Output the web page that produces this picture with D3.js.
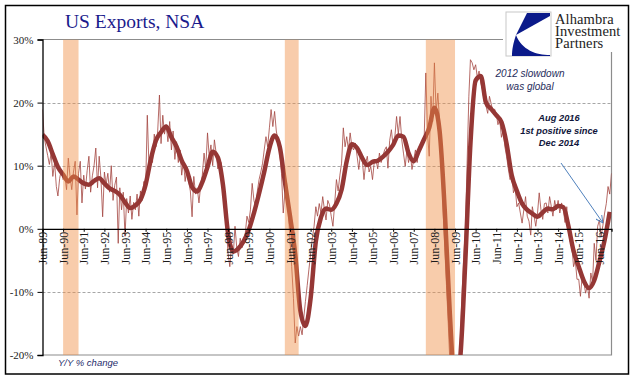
<!DOCTYPE html>
<html>
<head>
<meta charset="utf-8">
<script src="https://cdn.jsdelivr.net/npm/d3@7"></script>
<style>
  body { margin: 0; background: #fff; }
  svg { display: block; }
</style>
</head>
<body>
<div id="chart"></div>
<script>
// monthly Y/Y % change of US exports (NSA), first value = Jun 1989
var yoy = [
  18.9, 14.5, 13.0, 11.6, 10.2, 12.0, 8.3, 10.5, 6.7, 5.2, 8.0, 9.4,
  7.8, 8.5, 6.2, 11.2, 8.3, 6.2, 9.0, 10.7, 2.2, 8.8, 10.7, 4.1,
  8.5, 6.3, 9.2, 11.5, 5.8, 8.4, 10.0, 12.8, 6.5, 11.5, 8.0, 1.9,
  9.0, 7.0, 8.8, 5.8, 10.0, 4.5, 6.9, 8.2, -2.3, 6.5, 3.0, 5.8,
  -1.2, 4.8, 2.5, 5.2, 1.5, 4.2, 3.0, 5.5, 2.0, 6.0, 4.5, 7.5,
  6.5, 18.0, 9.5, 12.0, 10.5, 15.0, 13.0, 15.5, 21.2, 13.5, 18.0, 15.0,
  16.5, 13.8, 17.0, 12.5, 15.5, 11.0, 13.8, 10.5, 12.5, 8.5, 10.8, 7.5,
  9.8, 7.5, 6.0, 1.9, 8.3, 5.5, 6.5, 4.1, 7.0, 8.5, 12.0, 9.5,
  15.2, 11.5, 13.3, 10.0, 14.1, 12.0, 9.5, 11.0, 10.4, 7.0, 4.0, -0.2,
  -3.9, -6.0, -2.5, -4.0, 0.4, -3.0, -4.4, -1.5, -3.0, -2.0, -0.7, 2.0,
  1.0, 3.0, 7.2, 4.5, 3.5, 6.0, 7.8, 9.0, 10.4, 12.5, 14.6, 13.0,
  16.0, 18.9, 16.2, 18.6, 15.5, 14.0, 12.0, 8.8, 2.5, 5.5, 7.2, 3.0,
  -2.0, -6.0, -11.0, -18.1, -15.5, -17.0, -15.5, -16.8, -14.0, -11.5, -9.0, -6.5,
  -4.0, -1.5, 0.4, 3.5, 2.0, 4.0, 2.5, 5.1, 3.0, 1.4, 4.5, 3.8,
  2.0, 0.4, 4.0, 7.8, 6.0, 8.5, 10.4, 16.0, 13.0, 14.6, 12.5, 15.2,
  13.0, 12.5, 13.6, 11.5, 9.4, 12.0, 11.0, 7.8, 10.5, 11.5, 9.0, 9.9,
  7.8, 10.5, 11.0, 9.5, 12.0, 10.5, 11.5, 12.5, 13.0, 9.6, 14.0, 15.7,
  13.0, 14.5, 17.8, 15.0, 17.8, 14.1, 12.0, 9.9, 12.5, 10.5, 12.0, 9.4,
  11.0, 12.5, 10.5, 13.0, 12.5, 14.0, 13.6, 24.7, 15.0, 11.5, 21.0, 17.0,
  26.3, 18.5, 21.5, 17.0, 12.0, 3.0, -3.0, -9.0, -15.0, -21.0, -25.0, -27.0,
  -29.0, -28.0, -23.5, -18.0, -10.7, -4.5, -0.2, 10.4, 21.0, 26.8, 26.3, 25.2,
  26.0, 24.0, 25.0, 23.1, 22.0, 20.2, 19.5, 18.3, 21.0, 19.9, 18.7, 19.0,
  18.3, 16.5, 17.3, 14.5, 15.7, 13.0, 11.5, 9.5, 7.8, 9.0, 5.7, 6.5,
  3.5, 4.1, 2.5, 0.9, 3.0, 5.1, 2.0, 1.2, -1.0, 3.5, 2.0, 0.4,
  2.5, 5.7, 3.0, 1.5, 4.0, 4.1, 2.5, 5.1, 3.5, 2.0, 4.5, 3.0,
  4.5, 2.5, 4.1, 3.0, 1.0, 3.5, -0.2, -2.0, -2.8, -6.0, -5.0, -8.0,
  -8.0, -10.7, -7.5, -8.6, -10.2, -9.0, -11.0, -7.0, -8.5, -2.3, -5.0, 0.4,
  1.4, -1.2, 0.5, 2.5, 4.0, 6.7, 5.5, 8.8
];

// smoothed line, one value every 3 months from Jun 1989
var smooth = [
  14.9, 13.9, 11.8, 9.8, 8.6, 7.5, 8.3, 7.8, 7.2, 7.0,
  7.6, 8.0, 7.2, 6.4, 6.0, 5.4, 4.2, 3.3, 3.7, 4.6,
  7.0, 11.0, 14.0, 15.3, 16.2, 14.5, 13.0, 10.8, 9.2, 6.6,
  5.9, 7.4, 9.8, 12.2, 11.3, 7.0, -0.8, -3.6, -3.1, -2.0,
  -0.2, 2.5, 5.6, 9.0, 12.8, 14.8, 13.0, 7.5, 2.0, -4.0,
  -13.0, -15.4, -11.0, -2.0, 1.8, 3.2, 3.0, 4.0, 6.2, 10.7,
  13.4, 12.8, 11.2, 10.1, 10.6, 10.8, 11.4, 12.2, 13.3, 14.8,
  14.6, 12.0, 10.7, 12.4, 14.2, 16.0, 19.2, 15.5, 3.0, -13.4,
  -25.0, -20.5, -5.0, 13.5, 23.5, 24.2, 20.0, 19.0, 18.0, 16.9,
  13.5, 8.5, 6.0, 4.0, 3.0, 2.4, 1.9, 2.6, 3.2, 3.1,
  3.6, 3.4, 0.4, -3.5, -6.0, -8.3, -9.4, -8.2, -5.2, -1.8, 2.7
];

var recessions = [['1990-06', '1991-03'], ['2001-03', '2001-11'], ['2008-01', '2009-06']];
var yTicks = [30, 20, 10, 0, -10, -20];
var gridValues = [20, 10, -10];
var labelYears = d3.range(1989, 2017);

var w = 641, h = 381;
var pL = 42.5, pR = 611.5, pT = 39.5, pB = 355;

var monthDate = function(i) { return new Date(1989, 5 + i, 1); };
var parseMonth = d3.timeParse('%Y-%m');

var x = d3.scaleTime()
    .domain([new Date(1989, 5, 1), new Date(2017, 0, 1)])
    .range([pL, pR]);
var y = d3.scaleLinear()
    .domain([-20, 30])
    .range([pB, pT]);

var svg = d3.select('#chart').append('svg')
    .attr('width', w)
    .attr('height', h);

var defs = svg.append('defs');
defs.append('clipPath')
    .attr('id', 'plot')
  .append('rect')
    .attr('x', pL).attr('y', pT)
    .attr('width', pR - pL).attr('height', pB - pT);

// outer frame
svg.append('rect')
    .attr('x', 5.5).attr('y', 5.5)
    .attr('width', 623).attr('height', 368.5)
    .attr('fill', 'none')
    .attr('stroke', '#000')
    .attr('stroke-width', 1.5);

// gridlines
svg.selectAll('.grid')
    .data(gridValues)
    .enter()
    .append('line')
    .attr('x1', pL).attr('x2', pR)
    .attr('y1', function(d) { return Math.round(y(d)) + 0.5; })
    .attr('y2', function(d) { return Math.round(y(d)) + 0.5; })
    .attr('stroke', '#a6a6a6')
    .attr('stroke-dasharray', '3,2');

// plot area border
svg.append('path')
    .attr('d', 'M' + pL + ',' + pT + 'H' + pR + 'V' + pB + 'H' + pL)
    .attr('fill', 'none')
    .attr('stroke', '#8c8c8c')
    .attr('stroke-width', 1.2);

var lineThin = d3.line()
    .x(function(d, i) { return x(monthDate(i)); })
    .y(function(d) { return y(d); });

var lineThick = d3.line()
    .x(function(d, i) { return x(monthDate(i * 3)); })
    .y(function(d) { return y(d); })
    .curve(d3.curveMonotoneX);

var plot = svg.append('g').attr('clip-path', 'url(#plot)');

plot.append('path')
    .datum(yoy)
    .attr('d', lineThin)
    .attr('fill', 'none')
    .attr('stroke', '#a44641')
    .attr('stroke-opacity', 0.8)
    .attr('stroke-width', 1);

plot.append('path')
    .datum(smooth)
    .attr('d', lineThick)
    .attr('fill', 'none')
    .attr('stroke', '#953735')
    .attr('stroke-width', 4.5)
    .attr('stroke-linejoin', 'round');

// recession bands, drawn over the lines
plot.selectAll('.band')
    .data(recessions)
    .enter()
    .append('rect')
    .attr('x', function(d) { return x(parseMonth(d[0])); })
    .attr('width', function(d) { return x(parseMonth(d[1])) - x(parseMonth(d[0])); })
    .attr('y', pT)
    .attr('height', pB - pT)
    .attr('fill', '#ef8f45')
    .attr('fill-opacity', 0.45);

// zero line / x axis
var xAxis = svg.append('g')
    .attr('transform', 'translate(0,' + y(0) + ')')
    .call(d3.axisBottom(x)
      .tickValues(labelYears.map(function(yr) { return new Date(yr, 5, 1); }))
      .tickSize(3)
      .tickFormat(d3.timeFormat('%b-%y')));
xAxis.select('.domain').attr('stroke', '#000').attr('stroke-width', 1.3);
xAxis.selectAll('.tick line').attr('stroke', '#000');
xAxis.selectAll('.tick text')
    .attr('transform', 'rotate(-90)')
    .attr('text-anchor', 'end')
    .attr('x', -3)
    .attr('y', 0)
    .attr('dy', '0.35em')
    .style('font-family', '"Liberation Serif", serif')
    .style('font-size', '12px')
    .attr('fill', '#1a1a1a');

// y axis
var yAxis = svg.append('g')
    .attr('transform', 'translate(' + pL + ',0)')
    .call(d3.axisLeft(y)
      .tickValues(yTicks)
      .tickSize(5)
      .tickPadding(4)
      .tickFormat(function(d) { return d + '%'; }));
yAxis.select('.domain').attr('stroke', '#000').attr('stroke-width', 1.3);
yAxis.selectAll('.tick line').attr('stroke', '#000');
yAxis.selectAll('.tick text')
    .style('font-family', '"Liberation Serif", serif')
    .style('font-size', '11px')
    .attr('fill', '#1a1a1a');

// title
svg.append('text')
    .attr('x', 65).attr('y', 28)
    .style('font-family', '"Liberation Serif", serif')
    .style('font-size', '19.5px')
    .attr('fill', '#1a1a8c')
    .text('US Exports, NSA');

// logo
svg.append('rect')
    .attr('x', 503).attr('y', 7)
    .attr('width', 124).attr('height', 45)
    .attr('fill', '#fff');
var logo = svg.append('g').attr('transform', 'translate(506,12)');
logo.append('rect')
    .attr('x', 0).attr('y', 0)
    .attr('width', 45).attr('height', 44)
    .attr('fill', '#fff')
    .attr('stroke', '#c8c8c8');
logo.append('path')
    .attr('d', 'M21,1 L44,1 L44,4 L10,23 Z')
    .attr('fill', '#0b1a8a');
logo.append('path')
    .attr('d', 'M10,23 C7,32 6,38 6,44 L44,44 L44,43 C30,43 16,38 10,23 Z')
    .attr('fill', '#0b1a8a');
var logoLines = ['Alhambra', 'Investment', 'Partners'];
svg.selectAll('.logotext')
    .data(logoLines)
    .enter()
    .append('text')
    .attr('x', 555)
    .attr('y', function(d, i) { return 24 + i * 11.8; })
    .style('font-family', '"Liberation Serif", serif')
    .style('font-size', '14.5px')
    .style('letter-spacing', '0.1px')
    .attr('fill', '#222')
    .text(function(d) { return d; });

// annotations
var note1 = ['2012 slowdown', 'was global'];
svg.selectAll('.note1')
    .data(note1)
    .enter()
    .append('text')
    .attr('x', 530)
    .attr('y', function(d, i) { return 77 + i * 13; })
    .attr('text-anchor', 'middle')
    .style('font-family', '"Liberation Sans", Arial, sans-serif')
    .style('font-style', 'italic')
    .style('font-size', '10px')
    .attr('fill', '#1f2d5c')
    .text(function(d) { return d; });

var note2 = ['Aug 2016', '1st positive since', 'Dec 2014'];
svg.selectAll('.note2')
    .data(note2)
    .enter()
    .append('text')
    .attr('x', 559)
    .attr('y', function(d, i) { return 121 + i * 12.6; })
    .attr('text-anchor', 'middle')
    .style('font-family', '"Liberation Sans", Arial, sans-serif')
    .style('font-style', 'italic')
    .style('font-weight', 'bold')
    .style('font-size', '9.3px')
    .attr('fill', '#10153a')
    .text(function(d) { return d; });

defs.append('marker')
    .attr('id', 'arrow')
    .attr('viewBox', '0 0 10 10')
    .attr('refX', 9).attr('refY', 5)
    .attr('markerWidth', 8).attr('markerHeight', 8)
    .attr('markerUnits', 'userSpaceOnUse')
    .attr('orient', 'auto')
  .append('path')
    .attr('d', 'M0,0.5 L9,5 L0,9.5')
    .attr('fill', 'none')
    .attr('stroke', '#4f81bd')
    .attr('stroke-width', 1.2);

svg.append('line')
    .attr('x1', 561).attr('y1', 163)
    .attr('x2', x(new Date(2016, 7, 1))).attr('y2', y(0) - 6)
    .attr('stroke', '#4f81bd')
    .attr('stroke-width', 1)
    .attr('marker-end', 'url(#arrow)');

svg.append('text')
    .attr('x', 58).attr('y', 366)
    .style('font-family', '"Liberation Sans", Arial, sans-serif')
    .style('font-style', 'italic')
    .style('font-size', '9.5px')
    .attr('fill', '#1f2d6c')
    .text('Y/Y % change');
</script>
</body>
</html>
